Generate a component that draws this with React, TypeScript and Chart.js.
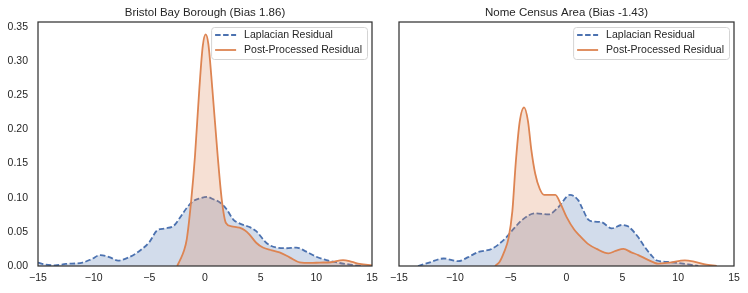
import { useEffect, useRef } from "react";
import { Chart, registerables } from "chart.js";

Chart.register(...registerables);

// ---- Data ----
const xTickValues = [-15, -10, -5, 0, 5, 10, 15];
const yTickValues = [0, 0.05, 0.1, 0.15, 0.2, 0.25, 0.3, 0.35];
const seriesLabels = ["Laplacian Residual", "Post-Processed Residual"];
const titles = ["Bristol Bay Borough (Bias 1.86)", "Nome Census Area (Bias -1.43)"];

// Bristol Bay Borough – Laplacian residual density
const bristolLapX = [-15, -14.3, -13.5, -12.5, -11, -10.2, -9.4, -8.6, -7.8, -6.8, -5.8, -5, -4.3, -3.6, -2.8, -2.24, -1.64, -1.05, -0.45, 0.2, 0.75, 1.34, 1.94, 2.54, 3.14, 4.0, 4.6, 5.5, 6.4, 7.3, 8.2, 9.1, 10.0, 10.9, 12.1, 13.3, 14];
const bristolLapY = [0.005, 0.002, 0.001, 0.003, 0.005, 0.01, 0.016, 0.013, 0.008, 0.013, 0.023, 0.035, 0.052, 0.055, 0.059, 0.071, 0.085, 0.095, 0.099, 0.101, 0.0976, 0.093, 0.083, 0.068, 0.062, 0.057, 0.051, 0.034, 0.027, 0.026, 0.027, 0.021, 0.0136, 0.0087, 0.0044, 0.0015, 0];

// Bristol Bay Borough – post-processed residual density
const bristolPostX = [-2.5, -2.2, -1.9, -1.64, -1.23, -0.9, -0.51, -0.2, 0.06, 0.3, 0.66, 1.14, 1.5, 1.88, 2.4, 3.1, 3.6, 4.0, 4.6, 5.2, 6.0, 6.7, 7.6, 8.5, 9.5, 10.3, 11.3, 12.4, 13.2, 13.9, 15];
const bristolPostY = [0, 0.01, 0.022, 0.039, 0.0975, 0.161, 0.259, 0.322, 0.339, 0.325, 0.259, 0.161, 0.098, 0.063, 0.058, 0.056, 0.052, 0.046, 0.034, 0.027, 0.023, 0.02, 0.0126, 0.0053, 0.0045, 0.005, 0.0055, 0.0087, 0.006, 0.003, 0.001];

// Nome Census Area – Laplacian residual density
const nomeLapX = [-13.3, -12.3, -11, -9.7, -8.8, -7.9, -6.7, -5.5, -4.7, -4.0, -2.8, -1.6, -0.73, 0.3, 1.06, 1.4, 1.95, 2.5, 3.15, 4.05, 4.94, 5.5, 6.43, 7.0, 7.6, 8.1, 9.1, 10.9, 11.8];
const nomeLapY = [0, 0.005, 0.011, 0.007, 0.013, 0.0205, 0.025, 0.04, 0.055, 0.067, 0.077, 0.0756, 0.086, 0.104, 0.096, 0.085, 0.068, 0.065, 0.064, 0.055, 0.06, 0.058, 0.042, 0.028, 0.0156, 0.008, 0.0059, 0.0024, 0];

// Nome Census Area – post-processed residual density
const nomePostX = [-6.4, -6.0, -5.6, -5.2, -4.85, -4.55, -4.2, -3.8, -3.45, -3.15, -2.8, -2.4, -2.0, -1.5, -1.0, -0.5, 0, 0.7, 1.2, 1.95, 2.7, 3.75, 4.4, 5.1, 5.8, 6.43, 7.3, 8.2, 9.2, 10.6, 11.5, 12.4, 13.45];
const nomePostY = [0, 0.006, 0.02, 0.04, 0.08, 0.15, 0.21, 0.232, 0.212, 0.17, 0.135, 0.113, 0.104, 0.104, 0.104, 0.09, 0.072, 0.053, 0.044, 0.032, 0.025, 0.0185, 0.022, 0.025, 0.02, 0.016, 0.009, 0.0035, 0.005, 0.0083, 0.006, 0.0024, 0];

const X_MIN = -15;
const X_MAX = 15;
const Y_MAX = 0.357;

const BLUE = "#4C72B0";
const ORANGE = "#DD8452";
const TEXT = "#262626";
const FONT = '"Liberation Sans", Arial, Helvetica, sans-serif';

const toPoints = (xs: number[], ys: number[]) => xs.map((x, i) => ({ x, y: ys[i] }));
const fmt = (v: number, digits: number) => {
  const s = Math.abs(v).toFixed(digits);
  return v < 0 ? "\u2212" + s : s;
};

function makeFramePlugin(title: string) {
  return {
    id: "frameTitleLegend",
    afterDraw(chart: any) {
      const { ctx, chartArea: a } = chart;
      ctx.save();
      // spines
      ctx.strokeStyle = "#333333";
      ctx.lineWidth = 1.25;
      ctx.strokeRect(a.left, a.top, a.right - a.left, a.bottom - a.top);
      // title
      ctx.fillStyle = TEXT;
      ctx.font = `11.5px ${FONT}`;
      ctx.textAlign = "center";
      ctx.textBaseline = "middle";
      ctx.fillText(title, (a.left + a.right) / 2, 12.5);
      // legend
      ctx.font = `10.5px ${FONT}`;
      const dsets = chart.data.datasets;
      const tw = Math.max(...dsets.map((d: any) => ctx.measureText(d.label).width));
      const w = 4 + 21 + 8 + tw + 5;
      const h = 32;
      const x = a.right - 5 - w;
      const y = a.top + 5;
      ctx.beginPath();
      ctx.roundRect(x + 0.5, y + 0.5, w, h, 3);
      ctx.fillStyle = "rgba(255,255,255,0.8)";
      ctx.fill();
      ctx.strokeStyle = "#d4d4d4";
      ctx.lineWidth = 1;
      ctx.stroke();
      dsets.forEach((d: any, i: number) => {
        const cy = y + 8 + i * 15;
        ctx.beginPath();
        ctx.setLineDash(d.borderDash || []);
        ctx.strokeStyle = d.borderColor;
        ctx.lineWidth = d.borderWidth;
        ctx.moveTo(x + 4, cy);
        ctx.lineTo(x + 25, cy);
        ctx.stroke();
        ctx.setLineDash([]);
        ctx.fillStyle = TEXT;
        ctx.textAlign = "left";
        ctx.textBaseline = "middle";
        ctx.fillText(d.label, x + 33, cy);
      });
      ctx.restore();
    },
  };
}

function DensityChart(props: {
  width: number;
  title: string;
  lapX: number[];
  lapY: number[];
  postX: number[];
  postY: number[];
  showY: boolean;
  padLeft: number;
  padRight: number;
}) {
  const ref = useRef<HTMLCanvasElement | null>(null);
  useEffect(() => {
    if (!ref.current) return;
    const chart = new Chart(ref.current, {
      type: "line",
      data: {
        datasets: [
          {
            label: seriesLabels[0],
            data: toPoints(props.lapX, props.lapY),
            borderColor: BLUE,
            backgroundColor: "rgba(76,114,176,0.25)",
            borderWidth: 1.8,
            borderDash: [5.5, 2.5],
            fill: "origin",
            pointRadius: 0,
            cubicInterpolationMode: "monotone",
            order: 2,
          },
          {
            label: seriesLabels[1],
            data: toPoints(props.postX, props.postY),
            borderColor: ORANGE,
            backgroundColor: "rgba(221,132,82,0.25)",
            borderWidth: 1.8,
            fill: "origin",
            pointRadius: 0,
            cubicInterpolationMode: "monotone",
            order: 1,
          },
        ],
      },
      options: {
        animation: false,
        responsive: false,
        devicePixelRatio: 1,
        layout: { padding: { top: 22, right: props.padRight, left: 0, bottom: 0 } },
        plugins: {
          legend: { display: false },
          title: { display: false },
          tooltip: { enabled: false },
        },
        scales: {
          x: {
            type: "linear",
            min: X_MIN,
            max: X_MAX,
            grid: { display: false, drawTicks: false },
            border: { display: false },
            afterBuildTicks: (s: any) => {
              s.ticks = xTickValues.map((v) => ({ value: v }));
            },
            afterFit: (s: any) => {
              s.height = 27;
              s.paddingLeft = 0;
              s.paddingRight = 0;
            },
            ticks: {
              padding: 6,
              color: TEXT,
              font: { family: FONT, size: 10.5 },
              maxRotation: 0,
              autoSkip: false,
              callback: (v: any) => fmt(Number(v), 0),
            },
          },
          y: {
            type: "linear",
            display: true,
            min: 0,
            max: Y_MAX,
            grid: { display: false, drawTicks: false },
            border: { display: false },
            afterBuildTicks: (s: any) => {
              s.ticks = yTickValues.map((v) => ({ value: v }));
            },
            afterFit: (s: any) => {
              s.width = props.padLeft;
            },
            ticks: {
              display: props.showY,
              padding: 10,
              color: TEXT,
              font: { family: FONT, size: 10.5 },
              autoSkip: false,
              callback: (v: any) => fmt(Number(v), 2),
            },
          },
        },
      },
      plugins: [makeFramePlugin(props.title)],
    } as any);
    return () => chart.destroy();
  }, []);
  return <canvas ref={ref} width={props.width} height={293} style={{ display: "block" }} />;
}

export default function App() {
  return (
    <div style={{ position: "absolute", left: 0, top: 0, width: 748, height: 293, background: "#fff", display: "flex" }}>
      <DensityChart
        width={380}
        title={titles[0]}
        lapX={bristolLapX}
        lapY={bristolLapY}
        postX={bristolPostX}
        postY={bristolPostY}
        showY={true}
        padLeft={38}
        padRight={8}
      />
      <DensityChart
        width={368}
        title={titles[1]}
        lapX={nomeLapX}
        lapY={nomeLapY}
        postX={nomePostX}
        postY={nomePostY}
        showY={false}
        padLeft={19}
        padRight={14}
      />
    </div>
  );
}
